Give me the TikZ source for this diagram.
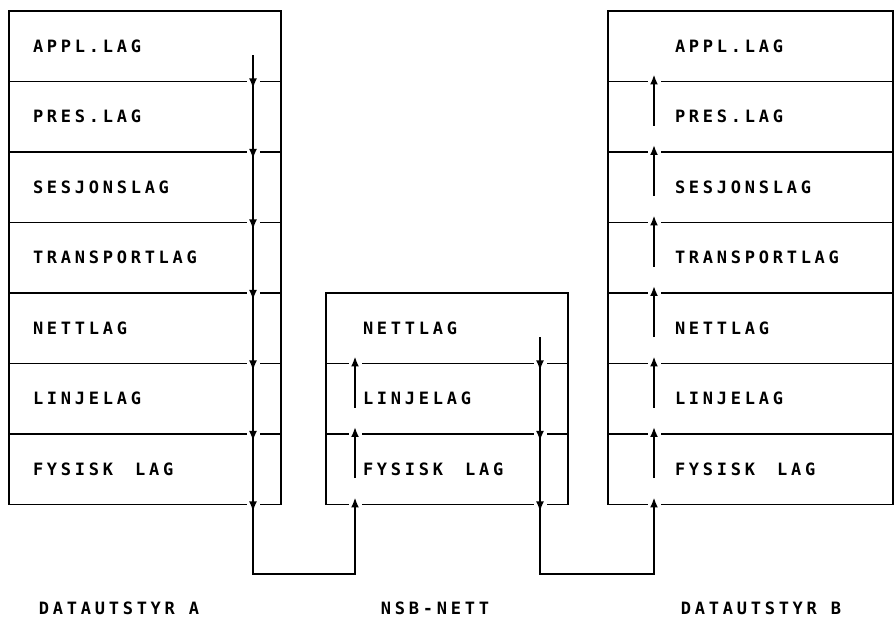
\documentclass[tikz,border=0pt]{standalone}
\usepackage{fontspec}
\newfontfamily\plotfont[LetterSpace=22]{DejaVu Sans Mono}
\usepackage{tikz}
\usetikzlibrary{arrows.meta,positioning,calc}
\newcommand{\gap}{\hspace{22pt}}

\begin{document}
\begin{tikzpicture}[
  x=1pt, y=1pt,
  line width=1.9pt,
  node distance=0pt,
  layer/.style={draw, outer sep=0pt, minimum height=70.5pt, inner ysep=0pt,
    text height=12pt, text depth=0pt, align=left,
    font=\plotfont\bfseries\fontsize{17}{20}\selectfont},
  stackA/.style={layer, text width=224pt, inner xsep=24pt},
  stackN/.style={layer, text width=168pt, inner xsep=37pt},
  stackB/.style={layer, text width=151pt, inner xsep=67pt},
  caption/.style={inner sep=0pt, anchor=base west, font=\plotfont\bfseries\fontsize{17}{20}\selectfont},
  arr/.style={-{Latex[length=10pt,width=8pt]}, shorten >=-7pt},
  cut/.style={draw=white, line width=13pt}
]
\useasboundingbox (0,0) rectangle (894,618);
% datautstyr A
\node[stackA] (a1) at (145,571.75) {APPL.LAG};
\node[stackA, below=of a1] (a2) {PRES.LAG};
\node[stackA, below=of a2] (a3) {SESJONSLAG};
\node[stackA, below=of a3] (a4) {TRANSPORTLAG};
\node[stackA, below=of a4] (a5) {NETTLAG};
\node[stackA, below=of a5] (a6) {LINJELAG};
\node[stackA, below=of a6] (a7) {FYSISK\gap LAG};
% nsb-nett
\node[stackN] (n1) at (447,289.75) {NETTLAG};
\node[stackN, below=of n1] (n2) {LINJELAG};
\node[stackN, below=of n2] (n3) {FYSISK\gap LAG};
% datautstyr B
\node[stackB] (b1) at (750.5,571.75) {APPL.LAG};
\node[stackB, below=of b1] (b2) {PRES.LAG};
\node[stackB, below=of b2] (b3) {SESJONSLAG};
\node[stackB, below=of b3] (b4) {TRANSPORTLAG};
\node[stackB, below=of b4] (b5) {NETTLAG};
\node[stackB, below=of b5] (b6) {LINJELAG};
\node[stackB, below=of b6] (b7) {FYSISK\gap LAG};
% captions
\node[caption] (capA) at (38,3) {DATAUTSTYR A};
\node[caption] (capN) at (380,3) {NSB-NETT};
\node[caption] (capB) at (680,3) {DATAUTSTYR B};
% where the lines run
\coordinate (pA) at ($(a1.east)+(-28,0)$);
\coordinate (pN) at ($(n1.west)+(29,0)$);
\coordinate (pM) at ($(n1.east)+(-28,0)$);
\coordinate (pB) at ($(b1.west)+(46,0)$);
% gaps in the layer lines
\draw[cut] ($(pA |- a1.south)+(0,8)$) -- ($(pA |- a7.south)+(0,-8)$);
\draw[cut] ($(pN |- n1.south)+(0,8)$) -- ($(pN |- n3.south)+(0,-8)$);
\draw[cut] ($(pM |- n1.south)+(0,8)$) -- ($(pM |- n3.south)+(0,-8)$);
\draw[cut] ($(pB |- b1.south)+(0,8)$) -- ($(pB |- b7.south)+(0,-8)$);
% down through A
\draw[arr] ($(pA)+(0,-9)$) -- (pA |- a1.south);
\draw[arr] (pA |- a1.south) -- (pA |- a2.south);
\draw[arr] (pA |- a2.south) -- (pA |- a3.south);
\draw[arr] (pA |- a3.south) -- (pA |- a4.south);
\draw[arr] (pA |- a4.south) -- (pA |- a5.south);
\draw[arr] (pA |- a5.south) -- (pA |- a6.south);
\draw[arr] (pA |- a6.south) -- (pA |- a7.south);
\draw[arr] (pA |- a7.south) -- ++(0,-69.5) -| (pN |- n3.south);
% up and down in the net
\draw[arr] ($(pN |- n3.center)+(0,-9)$) -- (pN |- n2.south);
\draw[arr] ($(pN |- n2.center)+(0,-9)$) -- (pN |- n1.south);
\draw[arr] ($(pM)+(0,-9)$) -- (pM |- n1.south);
\draw[arr] (pM |- n1.south) -- (pM |- n2.south);
\draw[arr] (pM |- n2.south) -- (pM |- n3.south);
\draw[arr] (pM |- n3.south) -- ++(0,-69.5) -| (pB |- b7.south);
% up through B
\draw[arr] ($(pB |- b7.center)+(0,-9)$) -- (pB |- b6.south);
\draw[arr] ($(pB |- b6.center)+(0,-9)$) -- (pB |- b5.south);
\draw[arr] ($(pB |- b5.center)+(0,-9)$) -- (pB |- b4.south);
\draw[arr] ($(pB |- b4.center)+(0,-9)$) -- (pB |- b3.south);
\draw[arr] ($(pB |- b3.center)+(0,-9)$) -- (pB |- b2.south);
\draw[arr] ($(pB |- b2.center)+(0,-9)$) -- (pB |- b1.south);
\end{tikzpicture}
\end{document}
